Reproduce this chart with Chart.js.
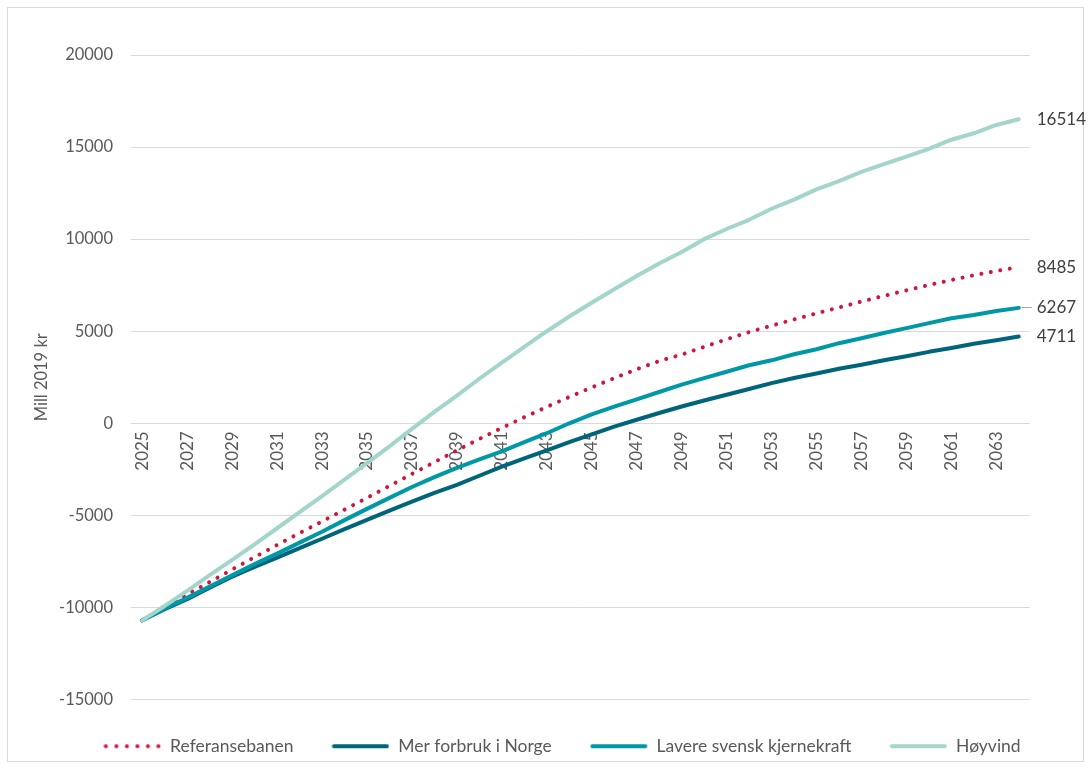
<!DOCTYPE html>
<html>
<head>
<meta charset="utf-8">
<script src="https://cdn.jsdelivr.net/npm/chart.js@4.4.1/dist/chart.umd.min.js"></script>
<style>
  html, body { margin: 0; padding: 0; background: #ffffff; }
  #wrap { position: relative; width: 1091px; height: 769px; }
</style>
</head>
<body>
<div id="wrap"><canvas id="chart"></canvas></div>
<script>
// Years on the category axis
const years = [
  '2025','2026','2027','2028','2029','2030','2031','2032','2033','2034',
  '2035','2036','2037','2038','2039','2040','2041','2042','2043','2044',
  '2045','2046','2047','2048','2049','2050','2051','2052','2053','2054',
  '2055','2056','2057','2058','2059','2060','2061','2062','2063','2064'
];
// Only every other year is labelled on the axis
const labelledYears = [
  '2025','2027','2029','2031','2033','2035','2037','2039','2041','2043',
  '2045','2047','2049','2051','2053','2055','2057','2059','2061','2063'
];
// Value axis ticks
const yTicks = [-15000, -10000, -5000, 0, 5000, 10000, 15000, 20000];

// Cumulative values, Mill 2019 kr
const referansebanen = [
  -10700, -10000, -9300, -8620, -7940, -7270, -6610, -5960, -5330, -4690,
  -4050, -3400, -2750, -2110, -1470, -850, -250, 330, 890, 1430,
  1950, 2450, 2930, 3380, 3730, 4150, 4560, 4950, 5300, 5640,
  5970, 6290, 6610, 6920, 7220, 7510, 7780, 8040, 8270, 8485
];
const merForbrukINorge = [
  -10700, -10100, -9550, -8930, -8330, -7800, -7300, -6780, -6270, -5750,
  -5250, -4740, -4250, -3780, -3350, -2850, -2350, -1900, -1470, -1020,
  -600, -180, 190, 560, 910, 1240, 1550, 1860, 2180, 2460,
  2700, 2960, 3180, 3420, 3640, 3880, 4090, 4320, 4510, 4711
];
const lavereSvenskKjernekraft = [
  -10700, -10060, -9480, -8860, -8250, -7650, -7080, -6480, -5890, -5260,
  -4650, -4050, -3460, -2920, -2420, -1960, -1530, -1020, -540, 0,
  480, 900, 1300, 1700, 2100, 2450, 2800, 3150, 3420, 3750,
  4020, 4350, 4620, 4900, 5170, 5440, 5700, 5880, 6100, 6267
];
const hoyvind = [
  -10700, -9920, -9100, -8250, -7420, -6570, -5700, -4830, -3950, -3060,
  -2160, -1250, -300, 620, 1500, 2420, 3300, 4150, 5000, 5800,
  6550, 7280, 8000, 8680, 9300, 10000, 10550, 11050, 11650, 12150,
  12700, 13150, 13650, 14070, 14480, 14900, 15400, 15750, 16200, 16514
];

const FONT = 'Lato, "Open Sans", sans-serif';
const TEXT = '#595959';
const GRID = '#d9d9d9';

// Short line samples for the legend
function legendSample(color, dotted) {
  const c = document.createElement('canvas');
  c.width = 58; c.height = 8;
  const g = c.getContext('2d');
  g.strokeStyle = color;
  g.lineWidth = 4;
  g.lineCap = 'round';
  g.beginPath();
  if (dotted) {
    g.setLineDash([0.01, 10.5]);
    g.moveTo(2.5, 4); g.lineTo(56, 4);
  } else {
    g.moveTo(2.5, 4); g.lineTo(55.5, 4);
  }
  g.stroke();
  return c;
}

// Outer frame around the whole chart
const framePlugin = {
  id: 'frame',
  beforeDraw(chart) {
    const ctx = chart.ctx;
    ctx.save();
    ctx.fillStyle = '#ffffff';
    ctx.fillRect(0, 0, chart.width, chart.height);
    ctx.strokeStyle = GRID;
    ctx.lineWidth = 1;
    ctx.strokeRect(7.5, 7.5, chart.width - 15, chart.height - 15);
    ctx.restore();
  }
};

// Nudge the legend row a little to the right of the centred position
const legendOffsetPlugin = {
  id: 'legendOffset',
  afterLayout(chart) {
    const lg = chart.legend;
    if (lg) { lg.left += 33; lg.right += 33; }
  }
};

// Value labels at the end of each line
const endLabelPlugin = {
  id: 'endLabels',
  afterDatasetsDraw(chart) {
    const ctx = chart.ctx;
    ctx.save();
    ctx.font = '17px ' + FONT;
    ctx.fillStyle = '#404040';
    ctx.textBaseline = 'middle';
    ctx.textAlign = 'left';
    chart.data.datasets.forEach((ds, i) => {
      const meta = chart.getDatasetMeta(i);
      const pt = meta.data[meta.data.length - 1];
      const value = ds.data[ds.data.length - 1];
      if (ds.leaderLine) {
        ctx.strokeStyle = '#a6a6a6';
        ctx.lineWidth = 1;
        ctx.beginPath();
        ctx.moveTo(pt.x + 3, Math.round(pt.y) - 0.5);
        ctx.lineTo(pt.x + 13, Math.round(pt.y) - 0.5);
        ctx.stroke();
      }
      ctx.fillText(String(value), pt.x + 18, pt.y);
    });
    ctx.restore();
  }
};

const datasets = [
  {
    label: 'Referansebanen',
    data: referansebanen,
    borderColor: '#d2143a',
    borderWidth: 4,
    borderDash: [0.01, 9.6],
    borderCapStyle: 'round',
    order: 4,
    sample: legendSample('#d2143a', true)
  },
  {
    label: 'Mer forbruk i Norge',
    data: merForbrukINorge,
    borderColor: '#00657a',
    borderWidth: 4,
    borderCapStyle: 'round',
    order: 3,
    sample: legendSample('#00657a', false)
  },
  {
    label: 'Lavere svensk kjernekraft',
    data: lavereSvenskKjernekraft,
    borderColor: '#0097a7',
    borderWidth: 4,
    borderCapStyle: 'round',
    order: 2,
    leaderLine: true,
    sample: legendSample('#0097a7', false)
  },
  {
    label: 'Høyvind',
    data: hoyvind,
    borderColor: '#a3d5cc',
    borderWidth: 4,
    borderCapStyle: 'round',
    order: 1,
    sample: legendSample('#a3d5cc', false)
  }
];
datasets.forEach(d => {
  d.fill = false;
  d.tension = 0;
  d.pointRadius = 0;
  d.pointHoverRadius = 0;
  d.borderJoinStyle = 'round';
  d.backgroundColor = d.borderColor;
});

new Chart(document.getElementById('chart'), {
  type: 'line',
  data: { labels: years, datasets },
  options: {
    responsive: true,
    maintainAspectRatio: false,
    animation: false,
    events: [],
    layout: { padding: { left: 28, right: 61, top: 55, bottom: 4 } },
    scales: {
      x: {
        type: 'category',
        position: { y: 0 },
        offset: true,
        grid: { display: false, drawTicks: false },
        border: { display: false },
        ticks: {
          autoSkip: false,
          minRotation: 90,
          maxRotation: 90,
          padding: 8,
          color: TEXT,
          font: { family: FONT, size: 17 },
          callback(value) {
            const y = this.getLabelForValue(value);
            return labelledYears.includes(y) ? y : '';
          }
        },
        afterFit(scale) { scale.height = 0; }
      },
      y: {
        min: yTicks[0],
        max: yTicks[yTicks.length - 1],
        grid: { color: GRID, lineWidth: 1, drawTicks: false },
        border: { display: false },
        afterBuildTicks(scale) { scale.ticks = yTicks.map(v => ({ value: v })); },
        ticks: {
          padding: 18,
          color: TEXT,
          font: { family: FONT, size: 16.5 },
          callback: (value) => String(value)
        },
        title: {
          display: true,
          text: 'Mill 2019 kr',
          color: TEXT,
          font: { family: FONT, size: 16.5 },
          padding: { top: 4, bottom: 4 }
        },
        afterFit(scale) { scale.width = 103; }
      }
    },
    plugins: {
      tooltip: { enabled: false },
      legend: {
        position: 'bottom',
        labels: {
          usePointStyle: true,
          pointStyleWidth: 58,
          padding: 38,
          color: TEXT,
          font: { family: FONT, size: 17.5 },
          generateLabels(chart) {
            return chart.data.datasets.map((ds, i) => ({
              text: ds.label,
              pointStyle: ds.sample,
              fillStyle: ds.borderColor,
              strokeStyle: ds.borderColor,
              lineWidth: 0,
              hidden: false,
              datasetIndex: i,
              fontColor: TEXT
            }));
          }
        }
      }
    }
  },
  plugins: [framePlugin, legendOffsetPlugin, endLabelPlugin]
});
</script>
</body>
</html>
